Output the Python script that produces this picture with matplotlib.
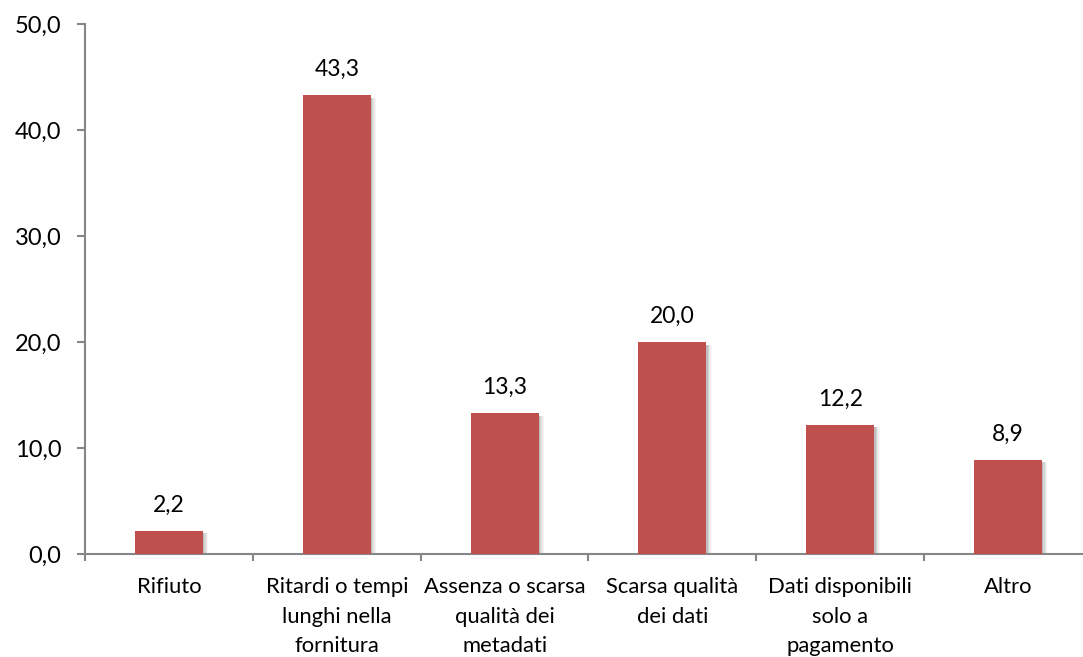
import matplotlib
matplotlib.use("Agg")
import matplotlib.pyplot as plt
from matplotlib.patches import Rectangle
from matplotlib.ticker import FuncFormatter, MultipleLocator
import numpy as np

categories = ["Rifiuto", "Ritardi o tempi\nlunghi nella\nfornitura", "Assenza o scarsa\nqualità dei\nmetadati",
              "Scarsa qualità\ndei dati", "Dati disponibili\nsolo a\npagamento", "Altro"]
values = [2.2, 43.3, 13.3, 20.0, 12.2, 8.9]

plt.rcParams['font.family'] = ['Lato', 'DejaVu Sans']
W, H = 1083, 657
fig = plt.figure(figsize=(W/100, H/100), dpi=100)
left, right, top, bottom = 85, 1092, 24, 554
ax = fig.add_axes([left/W, 1-bottom/H, (right-left)/W, (bottom-top)/H])

x = np.arange(len(categories))
bw = 0.405
color = "#C0504D"
# shadow
for i, (xi, v) in enumerate(zip(x, values)):
    for k, a in enumerate([0.10, 0.08, 0.06, 0.04]):
        off = 0.008 + k*0.008
        ax.add_patch(Rectangle((xi - bw/2 + off, -0.05), bw, v - 0.25 + 0.05,
                               facecolor="#000000", alpha=a, edgecolor="none", zorder=1))
ax.bar(x, values, width=bw, color=color, zorder=3)
for xi, v in zip(x, values):
    ax.text(xi, v + 1.8, f"{v:.1f}".replace(".", ","), ha="center", va="baseline", fontsize=16.5, color="#000000")

ax.set_xlim(-0.5, len(categories) - 0.5)
ax.set_ylim(0, 50)
ax.yaxis.set_major_locator(MultipleLocator(10))
ax.yaxis.set_major_formatter(FuncFormatter(lambda v, p: f"{v:.1f}".replace(".", ",")))
ax.set_xticks(x)
ax.set_xticklabels(categories, fontsize=15.8, linespacing=1.6, va="top")
ax.set_xticks(list(np.arange(-0.5, len(categories), 1.0)), minor=True)
ax.tick_params(axis="x", which="major", length=0, pad=16.5)
ax.tick_params(axis="x", which="minor", length=5, color="#868686", width=1.5)
ax.tick_params(axis="y", length=6, color="#868686", width=1.5, labelsize=17, pad=11)
for s in ["top", "right"]:
    ax.spines[s].set_visible(False)
for s in ["left", "bottom"]:
    ax.spines[s].set_color("#868686")
    ax.spines[s].set_linewidth(1.5)
fig.savefig("out.png", dpi=100)
